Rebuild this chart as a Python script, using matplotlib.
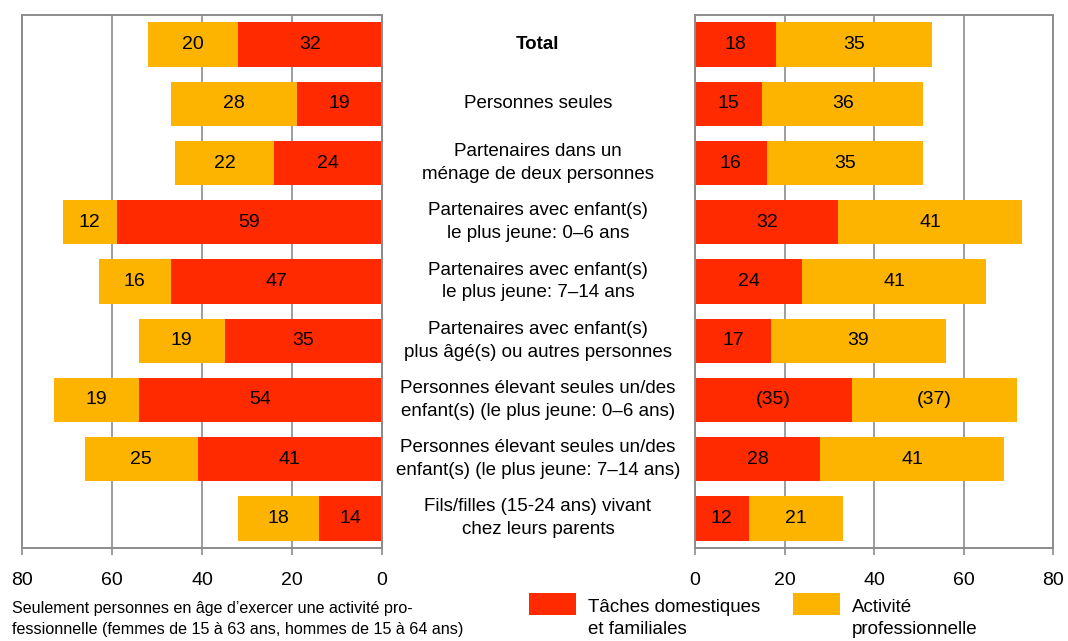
"""Répartition du temps: tâches domestiques et familiales / activité professionnelle."""

import matplotlib

matplotlib.use("Agg")
import matplotlib.pyplot as plt
import matplotlib.transforms as mtransforms
from matplotlib.patches import Rectangle

plt.rcParams["font.family"] = ["Liberation Sans", "DejaVu Sans"]

# ---- données ----
categories = [
    "Total",
    "Personnes seules",
    "Partenaires dans un\nménage de deux personnes",
    "Partenaires avec enfant(s)\nle plus jeune: 0–6 ans",
    "Partenaires avec enfant(s)\nle plus jeune: 7–14 ans",
    "Partenaires avec enfant(s)\nplus âgé(s) ou autres personnes",
    "Personnes élevant seules un/des\nenfant(s) (le plus jeune: 0–6 ans)",
    "Personnes élevant seules un/des\nenfant(s) (le plus jeune: 7–14 ans)",
    "Fils/filles (15-24 ans) vivant\nchez leurs parents",
]
left_domestic = [32, 19, 24, 59, 47, 35, 54, 41, 14]
left_pro = [20, 28, 22, 12, 16, 19, 19, 25, 18]
right_domestic = [18, 15, 16, 32, 24, 17, 35, 28, 12]
right_pro = [35, 36, 35, 41, 41, 39, 37, 41, 21]
uncertain_row = 6  # valeurs entre parenthèses (côté droit)

ticks = [0, 20, 40, 60, 80]
legend_labels = ["Tâches domestiques\net familiales", "Activité\nprofessionnelle"]

RED = "#FF2A00"
ORANGE = "#FDB400"
GRID = "#8C8C8C"

W, H = 1068, 641
fig = plt.figure(figsize=(W / 100, H / 100), dpi=100)
fig.patch.set_facecolor("white")

ax_l = fig.add_axes([22 / W, 1 - 548 / H, 360 / W, 533 / H])
ax_r = fig.add_axes([695 / W, 1 - 548 / H, 358 / W, 533 / H])

ypos = list(range(len(categories)))


def style_axis(ax, inverted):
    ax.set_xlim((80, 0) if inverted else (0, 80))
    ax.set_ylim(len(categories) - 0.5, -0.5)
    ax.set_xticks(ticks)
    ax.set_yticks([])
    ax.grid(axis="x", color=GRID, linewidth=1.2, zorder=0)
    ax.set_axisbelow(True)
    for sp in ax.spines.values():
        sp.set_color(GRID)
        sp.set_linewidth(1.4)
    ax.tick_params(axis="x", direction="out", length=5, width=1.2, color=GRID,
                   labelsize=14, pad=12)


def label_bars(ax, bars, values, paren=None):
    for i, (b, v) in enumerate(zip(bars, values)):
        txt = f"({v})" if i == paren else str(v)
        cx = b.get_x() + b.get_width() / 2
        ax.text(cx, b.get_y() + b.get_height() / 2, txt, ha="center", va="center",
                fontsize=14, color="black")


bar_h = 0.75
style_axis(ax_l, inverted=True)
b1 = ax_l.barh(ypos, left_domestic, height=bar_h, color=RED, zorder=2)
b2 = ax_l.barh(ypos, left_pro, left=left_domestic, height=bar_h, color=ORANGE, zorder=2)
label_bars(ax_l, b1, left_domestic)
label_bars(ax_l, b2, left_pro)

style_axis(ax_r, inverted=False)
b3 = ax_r.barh(ypos, right_domestic, height=bar_h, color=RED, zorder=2)
b4 = ax_r.barh(ypos, right_pro, left=right_domestic, height=bar_h, color=ORANGE, zorder=2)
label_bars(ax_r, b3, right_domestic, paren=uncertain_row)
label_bars(ax_r, b4, right_pro, paren=uncertain_row)

# ---- libellés des catégories au centre ----
trans = mtransforms.blended_transform_factory(fig.transFigure, ax_l.transData)
for i, cat in enumerate(categories):
    ax_l.text(538 / W, i, cat, transform=trans, ha="center", va="center",
              fontsize=13.5, linespacing=1.45, clip_on=False,
              weight="bold" if i == 0 else "normal")

# ---- légende (dessinée à la main pour coller à la mise en page) ----
for x0, col, lab in [(529, RED, legend_labels[0]), (793, ORANGE, legend_labels[1])]:
    fig.add_artist(Rectangle((x0 / W, 1 - 615 / H), 47 / W, 22 / H,
                             transform=fig.transFigure, facecolor=col, edgecolor="none"))
    fig.text((x0 + 59) / W, 1 - 599 / H, lab, ha="left", va="top",
             fontsize=13.5, linespacing=1.4)

# ---- note ----
fig.text(12 / W, 1 - 601 / H,
         "Seulement personnes en âge d’exercer une activité pro-\n"
         "fessionnelle (femmes de 15 à 63 ans, hommes de 15 à 64 ans)",
         ha="left", va="top", fontsize=11.6, linespacing=1.5)

fig.savefig("out.png", dpi=100)
